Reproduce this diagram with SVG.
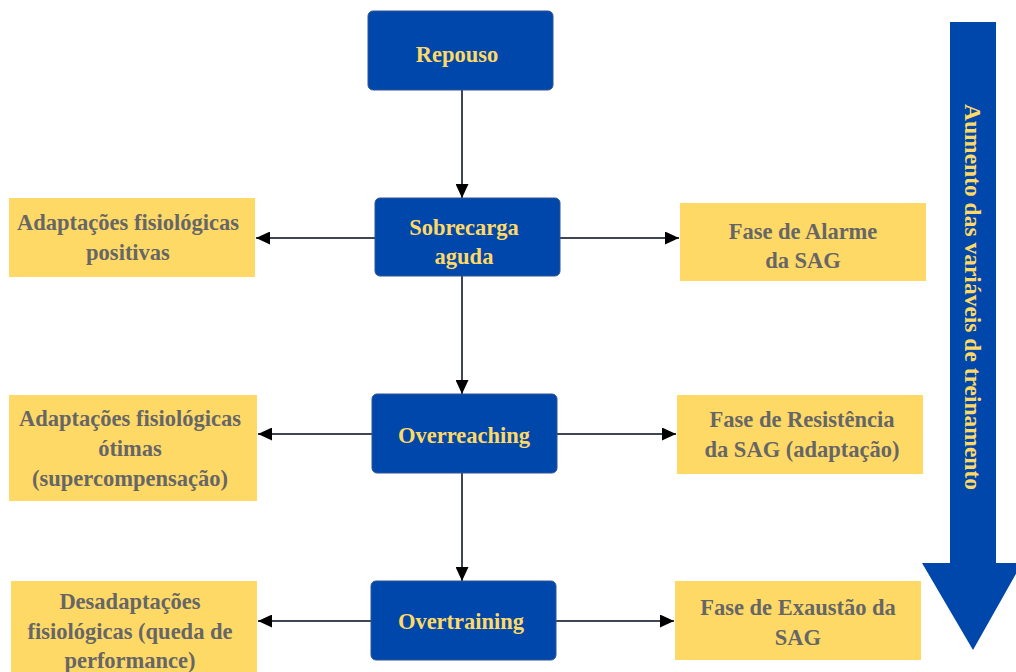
<svg xmlns="http://www.w3.org/2000/svg" width="1016" height="672" viewBox="0 0 1016 672">
<defs>
<marker id="ah" markerWidth="14" markerHeight="13" refX="14" refY="6.5" orient="auto" markerUnits="userSpaceOnUse" viewBox="0 0 14 13">
<path d="M0,0 L14,6.5 L0,13 Z" fill="#000"/>
</marker>
<style>
.blue{fill:#0047AB;stroke:#2F5597;stroke-width:1}
.yel{fill:#FFD966}
.bt{font-family:"Liberation Serif","Times New Roman",serif;font-weight:bold;font-size:22.5px;fill:#FFD966;text-anchor:middle}
.yt{font-family:"Liberation Serif","Times New Roman",serif;font-weight:bold;font-size:22.5px;fill:#666666;text-anchor:middle}
.vt{font-family:"Liberation Serif","Times New Roman",serif;font-weight:bold;font-size:23.5px;fill:#FFD966;text-anchor:middle}
.c{stroke:#3F4552;stroke-width:2;fill:none;marker-end:url(#ah)}
</style>
</defs>
<rect width="1016" height="672" fill="#fff"/>
<g id="connectors">
<line class="c" x1="462" y1="90" x2="462" y2="198"/>
<line class="c" x1="462" y1="276" x2="462" y2="394"/>
<line class="c" x1="462" y1="473" x2="462" y2="581"/>
<line class="c" x1="375" y1="238" x2="256" y2="238"/>
<line class="c" x1="560" y1="238" x2="679" y2="238"/>
<line class="c" x1="372" y1="434" x2="258" y2="434"/>
<line class="c" x1="557" y1="434" x2="676" y2="434"/>
<line class="c" x1="371" y1="621" x2="258" y2="621"/>
<line class="c" x1="556" y1="621" x2="674" y2="621"/>
</g>
<g id="repouso">
<rect class="blue" x="368" y="11" width="185" height="79" rx="5"/>
<text class="bt" x="457" y="62">Repouso</text>
</g>
<g id="sobrecarga">
<rect class="blue" x="375" y="198" width="185" height="78" rx="5"/>
<text class="bt" x="464" y="235">Sobrecarga</text>
<text class="bt" x="464" y="264">aguda</text>
</g>
<g id="overreaching">
<rect class="blue" x="372" y="394" width="185" height="79" rx="5"/>
<text class="bt" x="464" y="443">Overreaching</text>
</g>
<g id="overtraining">
<rect class="blue" x="371" y="581" width="185" height="79" rx="5"/>
<text class="bt" x="461" y="629">Overtraining</text>
</g>
<g id="adapt-positivas">
<rect class="yel" x="9" y="198" width="246" height="79"/>
<text class="yt" x="128" y="230">Adaptações fisiológicas</text>
<text class="yt" x="128" y="260">positivas</text>
</g>
<g id="adapt-otimas">
<rect class="yel" x="9" y="395" width="248" height="106"/>
<text class="yt" x="130" y="426">Adaptações fisiológicas</text>
<text class="yt" x="130" y="456">ótimas</text>
<text class="yt" x="130" y="486">(supercompensação)</text>
</g>
<g id="desadapt">
<rect class="yel" x="11" y="581" width="246" height="91"/>
<text class="yt" x="130" y="609">Desadaptações</text>
<text class="yt" x="130" y="639">fisiológicas (queda de</text>
<text class="yt" x="130" y="668">performance)</text>
</g>
<g id="alarme">
<rect class="yel" x="680" y="203" width="246" height="78"/>
<text class="yt" x="803" y="239">Fase de Alarme</text>
<text class="yt" x="803" y="268">da SAG</text>
</g>
<g id="resistencia">
<rect class="yel" x="677" y="395" width="246" height="79"/>
<text class="yt" x="802" y="427">Fase de Resistência</text>
<text class="yt" x="802" y="457">da SAG (adaptação)</text>
</g>
<g id="exaustao">
<rect class="yel" x="675" y="581" width="246" height="79"/>
<text class="yt" x="798" y="615">Fase de Exaustão da</text>
<text class="yt" x="798" y="645">SAG</text>
</g>
<g id="big-arrow">
<path d="M950,22 L996,22 L996,563 L1022,563 L973,650 L922,563 L950,563 Z" fill="#0047AB"/>
<text class="vt" transform="translate(965,297) rotate(90)" x="0" y="0">Aumento das variáveis de treinamento</text>
</g>
</svg>
